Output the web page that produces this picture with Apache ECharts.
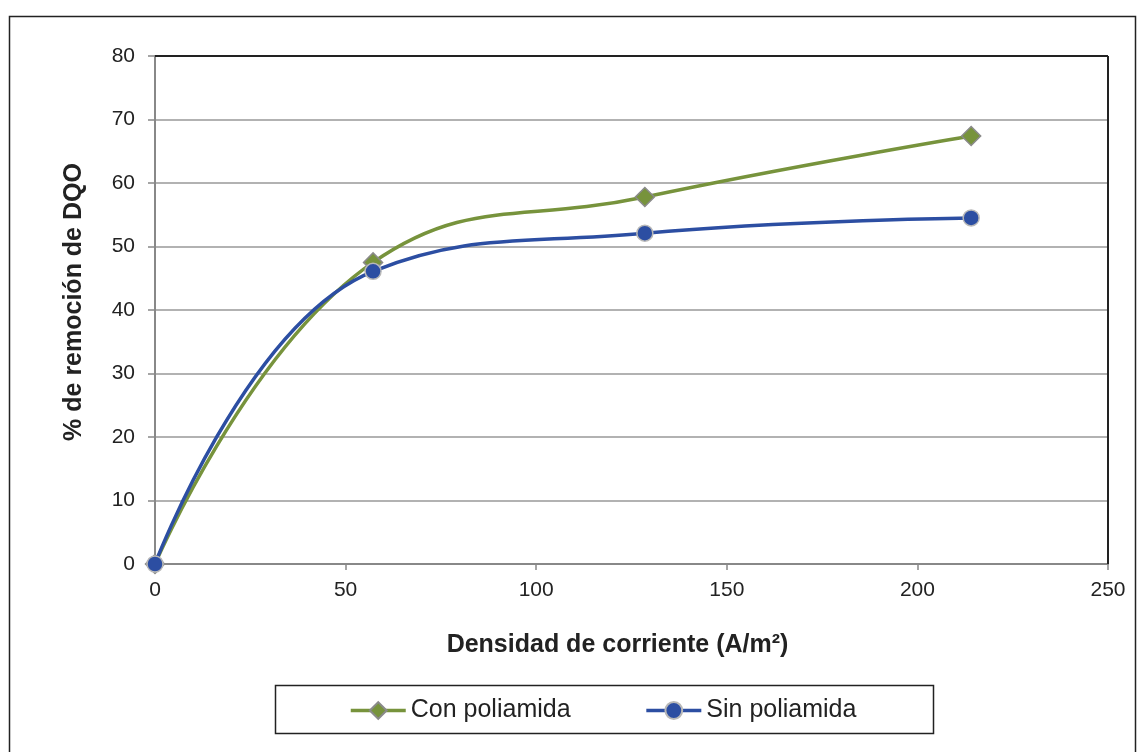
<!DOCTYPE html>
<html><head><meta charset="utf-8">
<script src="https://cdn.jsdelivr.net/npm/echarts@6/dist/echarts.min.js"></script>
<style>html,body{margin:0;padding:0;background:#fff}#c{width:1146px;height:752px}</style>
</head><body><div id="c"></div>
<script>
const densidad = [0, 57.2, 128.5, 214.1];
const conPoliamida = [0, 47.5, 57.8, 67.4];
const sinPoliamida = [0, 46.1, 52.1, 54.5];
const seriesNames = ['Con poliamida', 'Sin poliamida'];

const chart = echarts.init(document.getElementById('c'));
const font = 'Liberation Sans, Arial, sans-serif';
chart.setOption({
  animation: false,
  backgroundColor: '#fff',
  textStyle: { fontFamily: font },
  graphic: [
    { type: 'rect', shape: { x: 9.5, y: 16.5, width: 1126, height: 760 }, style: { fill: 'none', stroke: '#222', lineWidth: 1.5 }, z: -1 },
    { type: 'rect', shape: { x: 275.5, y: 685.5, width: 658, height: 48 }, style: { fill: '#fff', stroke: '#222', lineWidth: 1.5 }, z: 0 },
    { type: 'line', shape: { x1: 155, y1: 56, x2: 1108, y2: 56 }, style: { stroke: '#222', lineWidth: 2 }, z: 5 },
    { type: 'line', shape: { x1: 1108, y1: 56, x2: 1108, y2: 564 }, style: { stroke: '#222', lineWidth: 2 }, z: 5 }
  ],
  grid: { left: 155, top: 56, right: 38, bottom: 188 },
  legend: {
    left: 349, top: 698, padding: 0,
    itemWidth: 55, itemHeight: 21, itemGap: 74,
    lineStyle: { width: 3.5 },
    textStyle: { fontSize: 25, color: '#222', fontFamily: font },
    data: seriesNames, z: 10
  },
  xAxis: {
    type: 'value', min: 0, max: 250, interval: 50,
    name: 'Densidad de corriente (A/m²)', nameLocation: 'middle', nameGap: 69,
    nameTextStyle: { fontSize: 25, fontWeight: 'bold', color: '#222', padding: [0, 28, 0, 0] },
    axisLine: { lineStyle: { color: '#888', width: 2 } },
    axisTick: { show: true, length: 6, lineStyle: { color: '#888', width: 1.5 } },
    axisLabel: { fontSize: 21, color: '#222', margin: 16 },
    splitLine: { show: false }
  },
  yAxis: {
    type: 'value', min: 0, max: 80, interval: 10,
    name: '% de remoción de DQO', nameLocation: 'middle', nameGap: 68, nameRotate: 90,
    nameTextStyle: { fontSize: 25, fontWeight: 'bold', color: '#222', padding: [0, 0, 0, 16] },
    axisLine: { show: true, lineStyle: { color: '#888', width: 2 } },
    axisTick: { show: true, length: 7, lineStyle: { color: '#888', width: 1.5 } },
    axisLabel: { fontSize: 21, color: '#222', margin: 20 },
    splitLine: { show: true, lineStyle: { color: '#999', width: 1.5 } }
  },
  series: [
    {
      name: seriesNames[0], type: 'line', smooth: 0.45,
      data: densidad.map((x, i) => [x, conPoliamida[i]]),
      symbol: 'diamond', symbolSize: 19,
      lineStyle: { color: '#77933C', width: 3.5 },
      itemStyle: { color: '#77933C', borderColor: '#8a8a8a', borderWidth: 1.5 },
      z: 3
    },
    {
      name: seriesNames[1], type: 'line', smooth: 0.45,
      data: densidad.map((x, i) => [x, sinPoliamida[i]]),
      symbol: 'circle', symbolSize: 16,
      lineStyle: { color: '#2C4EA2', width: 3.5 },
      itemStyle: { color: '#2C4EA2', borderColor: '#b8b8b8', borderWidth: 1.5 },
      z: 4
    }
  ]
});
</script></body></html>
